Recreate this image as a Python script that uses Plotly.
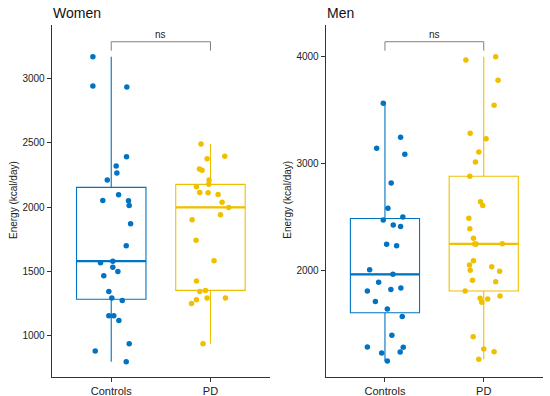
import numpy as np
import plotly.graph_objects as go

categories = ["Controls", "PD"]
panels = ["Women", "Men"]

women_ctrl = [3168, 2940, 2932, 2392, 2319, 2265, 2211, 2096, 2052, 2050, 2013, 1871, 1700, 1581,
              1568, 1534, 1501, 1467, 1346, 1294, 1276, 1157, 1157, 1121, 940, 883, 801]
women_ctrl_jit = [-0.185, -0.185, 0.157, 0.154, 0.05, 0.057, -0.04, 0.074, -0.085, 0.174, 0.181, 0.195,
                  0.151, 0.016, -0.108, 0.016, 0.067, -0.075, -0.024, 0.006, 0.111, -0.024, 0.026, 0.077,
                  0.181, -0.161, 0.151]
women_pd = [2490, 2395, 2376, 2296, 2286, 2211, 2177, 2159, 2114, 2112, 2099, 2039, 1998, 1941, 1902,
            1744, 1584, 1426, 1354, 1346, 1294, 1294, 1281, 1253, 940]
women_pd_jit = [-0.095, 0.144, -0.034, -0.111, -0.085, -0.014, -0.017, -0.141, -0.108, -0.024, 0.077,
                0.117, 0.184, 0.101, -0.185, -0.145, 0.036, -0.141, -0.05, -0.108, -0.034, 0.151, -0.141,
                -0.191, -0.075]
men_ctrl = [3565, 3248, 3145, 3089, 2821, 2585, 2476, 2504, 2429, 2414, 2249, 2236, 2012, 1969, 1894,
            1813, 1826, 1842, 1714, 1646, 1574, 1400, 1291, 1288, 1235, 1244, 1160]
men_ctrl_jit = [-0.017, 0.158, -0.084, 0.201, 0.063, 0.03, -0.017, 0.181, 0.084, 0.158, 0.017, 0.118,
                -0.155, 0.081, -0.064, -0.178, 0.06, 0.161, -0.097, 0.024, 0.175, 0.07, -0.178, 0.185,
                -0.033, 0.154, 0.024]
men_pd = [3969, 4000, 3780, 3546, 3285, 3235, 3111, 3017, 2884, 2647, 2610, 2492, 2395, 2305, 2252,
          2252, 2255, 2096, 2056, 2040, 2006, 1997, 1913, 1900, 1813, 1767, 1745, 1739, 1708, 1387,
          1247, 1272, 1176]
men_pd_jit = [-0.181, 0.121, 0.145, 0.105, -0.137, 0.024, -0.05, -0.084, -0.141, -0.033, -0.01, -0.151,
              -0.141, -0.104, -0.091, -0.077, 0.188, -0.104, -0.144, 0.081, -0.137, 0.161, -0.114, 0.121,
              -0.188, 0.165, -0.037, 0.04, -0.02, -0.107, 0.105, 0.0, -0.05]

women_yticks = [1000, 1500, 2000, 2500, 3000]
men_yticks = [2000, 3000, 4000]
y_ranges = [[684, 3414], [1013, 4296]]
ns_bracket_top = [3284, 4140]
ns_bracket_drop = [70, 84]
ns_label = "ns"

colors = ["#0073C2", "#EFC000"]
FONT = "Liberation Sans, Arial, sans-serif"
BOX_W = 0.7

groups = [
    [(women_ctrl, women_ctrl_jit), (women_pd, women_pd_jit)],
    [(men_ctrl, men_ctrl_jit), (men_pd, men_pd_jit)],
]
yticks = [women_yticks, men_yticks]

W, H = 550, 396

def px_x(x):
    return x / W

def px_y(y):
    return 1 - y / H

fig = go.Figure()

def box_stats(v):
    a = np.array(v, dtype=float)
    q1, med, q3 = np.percentile(a, [25, 50, 75])
    iqr = q3 - q1
    lo = a[a >= q1 - 1.5 * iqr].min()
    hi = a[a <= q3 + 1.5 * iqr].max()
    return q1, med, q3, lo, hi

for p, panel in enumerate(groups):
    xa = "x" if p == 0 else "x2"
    ya = "y" if p == 0 else "y2"
    for g, (vals, jit) in enumerate(panel):
        pos = g + 1
        q1, med, q3, lo, hi = box_stats(vals)
        fig.add_trace(go.Box(
            x=[pos], q1=[q1], median=[med], q3=[q3], lowerfence=[lo], upperfence=[hi],
            width=BOX_W, boxpoints=False, whiskerwidth=0,
            fillcolor="rgba(255,255,255,0)", line=dict(color=colors[g], width=1.1),
            xaxis=xa, yaxis=ya, showlegend=False, hoverinfo="skip"))
        fig.add_trace(go.Scatter(
            x=[pos - BOX_W / 2, pos + BOX_W / 2], y=[med, med], mode="lines",
            line=dict(color=colors[g], width=2.2), xaxis=xa, yaxis=ya,
            showlegend=False, hoverinfo="skip"))
        fig.add_trace(go.Scatter(
            x=[pos + j for j in jit], y=vals, mode="markers",
            marker=dict(color=colors[g], size=5.5, line=dict(width=0)),
            xaxis=xa, yaxis=ya, showlegend=False))
    top = ns_bracket_top[p]
    bot = top - ns_bracket_drop[p]
    fig.add_trace(go.Scatter(
        x=[1, 1, 2, 2], y=[bot, top, top, bot], mode="lines",
        line=dict(color="#808080", width=1), xaxis=xa, yaxis=ya,
        showlegend=False, hoverinfo="skip"))
    fig.add_annotation(x=1.5, y=top, xref=xa, yref=ya, text=ns_label, showarrow=False,
                       yanchor="bottom", yshift=0, font=dict(family=FONT, size=10, color="#222"))

x_domains = [[px_x(51.7), px_x(270)], [px_x(325.7), px_x(543)]]
y_domain = [px_y(376.7), px_y(25)]

axis_common = dict(showline=True, linecolor="#333", linewidth=1, ticks="outside", ticklen=4,
                   tickcolor="#333", tickwidth=1, showgrid=False, zeroline=False,
                   mirror=False)

for p in range(2):
    sx = "" if p == 0 else "2"
    fig.update_layout(**{
        "xaxis" + sx: dict(axis_common, domain=x_domains[p], range=[0.4, 2.6],
                           tickvals=[1, 2], ticktext=categories, anchor="y" + sx,
                           tickfont=dict(family=FONT, size=11, color="#222")),
        "yaxis" + sx: dict(axis_common, domain=y_domain, range=y_ranges[p],
                           tickvals=yticks[p], anchor="x" + sx,
                           tickfont=dict(family=FONT, size=10, color="#222")),
    })
    fig.add_annotation(x=x_domains[p][0], y=px_y(12.5), xref="paper", yref="paper",
                       text=panels[p], showarrow=False, xanchor="left", yanchor="middle",
                       xshift=-1, font=dict(family=FONT, size=14, color="#111"))
    fig.add_annotation(x=px_x(13 if p == 0 else 286.7), y=px_y(200), xref="paper", yref="paper",
                       text="Energy (kcal/day)", textangle=-90, showarrow=False,
                       xanchor="center", yanchor="middle",
                       font=dict(family=FONT, size=10, color="#222"))

fig.update_layout(width=W, height=H, margin=dict(l=0, r=0, t=0, b=0),
                  plot_bgcolor="white", paper_bgcolor="white", showlegend=False,
                  hovermode=False)

fig.write_html("out.html", config={"displayModeBar": False},
               post_script="document.body.style.margin='0';document.body.style.overflow='hidden';")
